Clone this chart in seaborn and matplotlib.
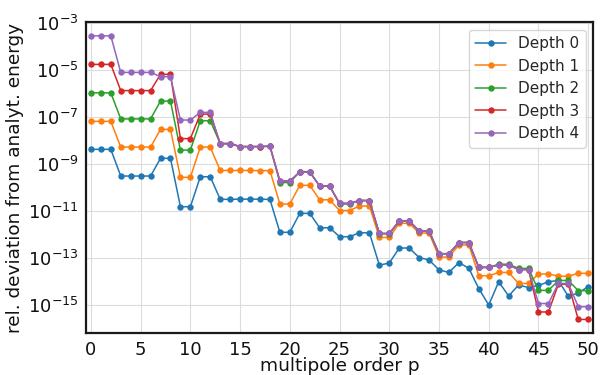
import matplotlib
matplotlib.use("Agg")
import matplotlib.pyplot as plt
import pandas as pd
import seaborn as sns

# multipole orders
orders = list(range(51))

# relative deviation from the analytic energy, one list per tree depth
depth_0 = [4.35e-9, 4.35e-9, 4.35e-9, 3.18e-10, 3.18e-10, 3.18e-10, 3.18e-10, 1.8e-9, 1.8e-9,
           1.57e-11, 1.57e-11, 2.97e-10, 2.97e-10, 3.24e-11, 3.24e-11, 3.3e-11, 3.3e-11, 3.3e-11,
           3.2e-11, 1.28e-12, 1.28e-12, 8.2e-12, 8.2e-12, 2.0e-12, 2.0e-12, 8.3e-13, 8.3e-13,
           1.22e-12, 1.22e-12, 5.1e-14, 6.3e-14, 2.74e-13, 2.74e-13, 1.08e-13, 8.5e-14, 3.2e-14,
           2.5e-14, 6.6e-14, 3.75e-14, 5.1e-15, 1.03e-15, 1.0e-14, 2.5e-15, 7.3e-15, 5.7e-15,
           7.0e-15, 1.0e-14, 1.14e-14, 2.4e-15, 3.3e-15, 6.3e-15]
depth_1 = [6.76e-8, 6.76e-8, 6.76e-8, 5.45e-9, 5.45e-9, 5.45e-9, 5.45e-9, 3.08e-8, 3.08e-8,
           2.8e-10, 2.8e-10, 5.45e-9, 5.45e-9, 5.5e-10, 5.5e-10, 5.5e-10, 5.5e-10, 5.4e-10,
           5.4e-10, 2.05e-11, 2.05e-11, 1.28e-10, 1.28e-10, 3.1e-11, 3.1e-11, 1.08e-11, 1.08e-11,
           1.68e-11, 1.68e-11, 7.7e-13, 7.7e-13, 3.1e-12, 3.1e-12, 1.19e-12, 1.19e-12, 1.13e-13,
           1.13e-13, 3.7e-13, 3.7e-13, 1.8e-14, 1.8e-14, 2.5e-14, 2.5e-14, 8.5e-15, 8.5e-15,
           2.15e-14, 2.15e-14, 1.73e-14, 1.73e-14, 2.3e-14, 2.3e-14]
depth_2 = [1.11e-6, 1.11e-6, 1.11e-6, 8.6e-8, 8.6e-8, 8.6e-8, 8.6e-8, 4.94e-7, 4.94e-7,
           4.06e-9, 4.06e-9, 7.2e-8, 7.2e-8, 7.7e-9, 7.7e-9, 5.7e-9, 5.7e-9, 5.7e-9,
           5.9e-9, 1.68e-10, 1.68e-10, 4.9e-10, 4.9e-10, 1.19e-10, 1.19e-10, 2.05e-11, 2.05e-11,
           2.88e-11, 2.88e-11, 1.12e-12, 1.12e-12, 3.9e-12, 3.9e-12, 1.45e-12, 1.45e-12, 1.57e-13,
           1.57e-13, 4.7e-13, 4.7e-13, 4.1e-14, 4.1e-14, 5.6e-14, 5.6e-14, 3.7e-14, 3.7e-14,
           4.3e-15, 4.3e-15, 1.14e-14, 1.14e-14, 4.2e-15, 4.2e-15]
depth_3 = [1.8e-5, 1.8e-5, 1.8e-5, 1.38e-6, 1.38e-6, 1.38e-6, 1.38e-6, 6.8e-6, 6.8e-6,
           1.25e-8, 1.25e-8, 1.38e-7, 1.38e-7, 7.7e-9, 7.7e-9, 5.7e-9, 5.7e-9, 5.7e-9,
           5.9e-9, 1.95e-10, 1.95e-10, 4.7e-10, 4.7e-10, 1.19e-10, 1.19e-10, 2.19e-11, 2.19e-11,
           2.88e-11, 2.88e-11, 1.14e-12, 1.14e-12, 3.9e-12, 3.9e-12, 1.45e-12, 1.45e-12, 1.57e-13,
           1.57e-13, 4.7e-13, 4.7e-13, 4.1e-14, 4.1e-14, 5.2e-14, 5.2e-14, 3.3e-14, 3.3e-14,
           5.2e-16, 5.2e-16, 7.9e-15, 7.9e-15, 2.5e-16, 2.5e-16]
depth_4 = [2.96e-4, 2.96e-4, 2.96e-4, 8.2e-6, 8.2e-6, 8.2e-6, 8.2e-6, 5.4e-6, 5.4e-6,
           7.7e-8, 7.7e-8, 1.63e-7, 1.63e-7, 7.4e-9, 7.4e-9, 5.7e-9, 5.7e-9, 5.8e-9,
           5.9e-9, 2.0e-10, 2.0e-10, 4.7e-10, 4.7e-10, 1.19e-10, 1.19e-10, 2.19e-11, 2.19e-11,
           2.88e-11, 2.88e-11, 1.14e-12, 1.14e-12, 3.9e-12, 3.9e-12, 1.45e-12, 1.45e-12, 1.57e-13,
           1.57e-13, 4.7e-13, 4.7e-13, 4.1e-14, 4.1e-14, 5.2e-14, 5.2e-14, 3.3e-14, 3.3e-14,
           1.19e-15, 1.19e-15, 8.5e-15, 8.5e-15, 8.7e-16, 8.7e-16]

series_names = ["Depth 0", "Depth 1", "Depth 2", "Depth 3", "Depth 4"]
series_values = [depth_0, depth_1, depth_2, depth_3, depth_4]

y_ticks = [1e-3, 1e-5, 1e-7, 1e-9, 1e-11, 1e-13, 1e-15]
x_ticks = list(range(0, 51, 5))

frame = pd.DataFrame({
    "p": orders * len(series_names),
    "deviation": [v for vals in series_values for v in vals],
    "depth": [name for name in series_names for _ in orders],
})

sns.set_style("whitegrid", {"grid.color": "#dcdcdc", "axes.edgecolor": "#1a1a1a"})
plt.rcParams["font.family"] = ["DejaVu Sans"]

fig, ax = plt.subplots(figsize=(6.01, 3.75), dpi=100)
fig.subplots_adjust(left=0.143, right=0.987, top=0.941, bottom=0.112)

palette = sns.color_palette("tab10", len(series_names))
for i, name in enumerate(series_names):
    sub = frame[frame["depth"] == name]
    sns.lineplot(data=sub, x="p", y="deviation", ax=ax, color=palette[i],
                 marker="o", markersize=4.6, markeredgewidth=0, linewidth=1.1,
                 label=name)

ax.set_yscale("log")
ax.set_xlim(-0.5, 50.5)
ax.set_ylim(10 ** -16.18, 10 ** -2.945)
ax.set_yticks(y_ticks)
ax.yaxis.set_minor_locator(matplotlib.ticker.NullLocator())
ax.set_xticks(x_ticks)
ax.tick_params(axis="both", labelsize=13, colors="#111111", pad=2)

ax.set_xlabel("multipole order p", fontsize=13.3, color="#111111", labelpad=-1)
ax.set_ylabel("rel. deviation from analyt. energy", fontsize=13.3, color="#111111", labelpad=3)

for spine in ax.spines.values():
    spine.set_linewidth(1.6)
    spine.set_color("#1a1a1a")

ax.legend(loc="upper right", fontsize=11, frameon=True)

fig.savefig("out.png", dpi=100)
